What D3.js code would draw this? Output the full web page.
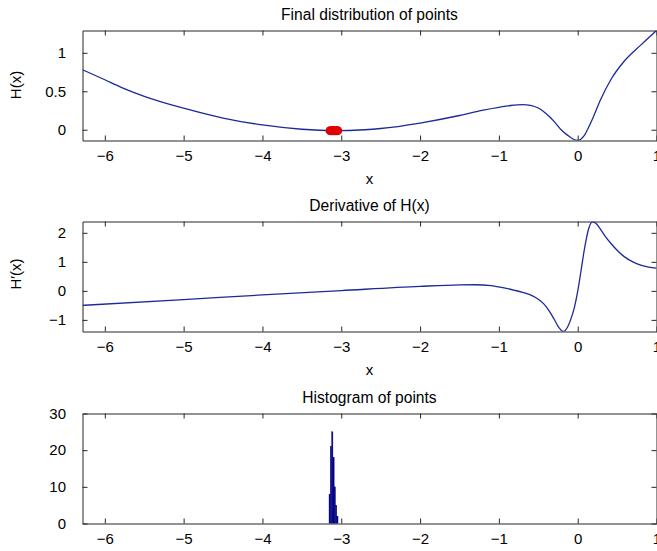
<!DOCTYPE html>
<html>
<head>
<meta charset="utf-8">
<script src="https://cdn.jsdelivr.net/npm/d3@7"></script>
<style>
body { margin: 0; background: #fff; }
svg { display: block; font-family: "Liberation Sans", Arial, sans-serif; }
.axis { color: #262626; }
.axis text { fill: #000; font-size: 15px; font-family: "Liberation Sans", Arial, sans-serif; }
.title { font-size: 15.6px; }
.label { font-size: 15px; }
</style>
</head>
<body>
<svg width="657" height="551"></svg>
<script>
var svg = d3.select("svg");

// shared x axis
var xRange = [-2 * Math.PI, 1];
var xTicks = [-6, -5, -4, -3, -2, -1, 0, 1];

// H(x)
var hX = [-6.283, -6.0, -5.8, -5.5, -5.0, -4.5, -4.0, -3.5, -3.1, -2.7, -2.5, -2.0, -1.5, -1.2, -1.0, -0.85, -0.7, -0.6, -0.5, -0.43, -0.36, -0.3, -0.21, -0.13, -0.06, 0.0, 0.08, 0.14, 0.2, 0.29, 0.42, 0.59, 0.8, 1.0];
var hY = [0.78, 0.65, 0.555, 0.435, 0.28, 0.152, 0.062, 0.006, -0.012, 0.0, 0.016, 0.087, 0.185, 0.255, 0.292, 0.315, 0.326, 0.316, 0.282, 0.235, 0.172, 0.108, 0.0, -0.07, -0.12, -0.138, -0.08, 0.035, 0.17, 0.39, 0.65, 0.89, 1.10, 1.29];
var hTicks = [0, 0.5, 1];

// final points (red markers)
var ptX = [-3.142, -3.128, -3.114, -3.100, -3.086, -3.072, -3.058, -3.045];
var ptY = [-0.012, -0.012, -0.012, -0.012, -0.012, -0.012, -0.012, -0.012];

// H'(x), middle panel
var dX = [-6.283, -5.0, -4.0, -3.0, -2.0, -1.5, -1.3, -1.1, -0.95, -0.8, -0.7, -0.6, -0.5, -0.43, -0.36, -0.3, -0.24, -0.183, -0.133, -0.09, -0.04, 0.0, 0.04, 0.08, 0.14, 0.185, 0.23, 0.29, 0.35, 0.42, 0.5, 0.59, 0.7, 0.8, 0.9, 1.0];
var dY = [-0.50, -0.30, -0.14, 0.01, 0.155, 0.205, 0.21, 0.18, 0.11, 0.02, -0.05, -0.14, -0.29, -0.45, -0.70, -0.97, -1.26, -1.40, -1.27, -1.0, -0.55, -0.02, 0.65, 1.35, 2.15, 2.38, 2.33, 2.12, 1.88, 1.64, 1.40, 1.18, 1.0, 0.89, 0.82, 0.78];
var dTicks = [-1, 0, 1, 2];

// histogram of points
var binX = [-3.147, -3.131, -3.114, -3.098, -3.082, -3.065, -3.049];
var binN = [8, 21, 25, 18, 10, 5, 2];
var nTicks = [0, 10, 20, 30];

var fmt = d3.format("");
var left = 82.5, right = 656.5, plotH = 110;

function frame(top, yDomain, yTicks, title, id) {
    var x = d3.scaleLinear().domain(xRange).range([left, right]);
    var y = d3.scaleLinear().domain(yDomain).range([top + plotH, top]);
    var g = svg.append("g");

    g.append("clipPath").attr("id", id)
        .append("rect")
        .attr("x", left).attr("y", top)
        .attr("width", right - left).attr("height", plotH);

    g.append("g").attr("class", "axis")
        .attr("transform", "translate(0," + (top + plotH) + ")")
        .call(d3.axisBottom(x).tickValues(xTicks).tickSize(-5).tickSizeOuter(0).tickPadding(9.5).tickFormat(fmt));
    g.append("g").attr("class", "axis")
        .attr("transform", "translate(0," + top + ")")
        .call(d3.axisTop(x).tickValues(xTicks).tickSize(-5).tickSizeOuter(0).tickFormat(""));
    g.append("g").attr("class", "axis")
        .attr("transform", "translate(" + left + ",0)")
        .call(d3.axisLeft(y).tickValues(yTicks).tickSize(-5).tickSizeOuter(0).tickPadding(16.5).tickFormat(fmt));
    g.append("g").attr("class", "axis")
        .attr("transform", "translate(" + right + ",0)")
        .call(d3.axisRight(y).tickValues(yTicks).tickSize(-5).tickSizeOuter(0).tickFormat(""));

    g.append("text")
        .attr("class", "title")
        .attr("x", (left + right) / 2)
        .attr("y", top - 10.5)
        .attr("text-anchor", "middle")
        .text(title);

    var plot = g.append("g").attr("clip-path", "url(#" + id + ")");
    return { g: g, plot: plot, x: x, y: y };
}

function ylabel(p, text, cy) {
    p.g.append("text")
        .attr("class", "label")
        .attr("transform", "translate(21," + cy + ") rotate(-90)")
        .attr("text-anchor", "middle")
        .text(text);
}

function xlabel(p, top) {
    p.g.append("text")
        .attr("class", "label")
        .attr("x", (left + right) / 2)
        .attr("y", top + plotH + 43.5)
        .attr("text-anchor", "middle")
        .text("x");
}

function curve(p, xs, ys) {
    var line = d3.line()
        .x(function(d) { return p.x(d[0]); })
        .y(function(d) { return p.y(d[1]); })
        .curve(d3.curveMonotoneX);
    p.plot.append("path")
        .datum(d3.zip(xs, ys))
        .attr("d", line)
        .attr("fill", "none")
        .attr("stroke", "#1c2a98")
        .attr("stroke-width", 1.3);
}

// top panel
var p1 = frame(30.5, [-0.14, 1.29], hTicks, "Final distribution of points", "c1");
curve(p1, hX, hY);
p1.plot.selectAll("circle")
    .data(d3.zip(ptX, ptY))
    .enter().append("circle")
    .attr("cx", function(d) { return p1.x(d[0]); })
    .attr("cy", function(d) { return p1.y(d[1]); })
    .attr("r", 4.5)
    .attr("fill", "#e10000");
ylabel(p1, "H(x)", 85);
xlabel(p1, 30.5);

// middle panel
var p2 = frame(221.5, [-1.40, 2.39], dTicks, "Derivative of H(x)", "c2");
curve(p2, dX, dY);
ylabel(p2, "H\u2032(x)", 274);
xlabel(p2, 221.5);

// histogram
var p3 = frame(413.5, [0, 30], nTicks, "Histogram of points", "c3");
var binW = binX[1] - binX[0];
p3.plot.selectAll("rect")
    .data(d3.zip(binX, binN))
    .enter().append("rect")
    .attr("x", function(d) { return p3.x(d[0] - binW / 2); })
    .attr("width", function(d) { return p3.x(d[0] + binW / 2) - p3.x(d[0] - binW / 2); })
    .attr("y", function(d) { return p3.y(d[1]); })
    .attr("height", function(d) { return p3.y(0) - p3.y(d[1]); })
    .attr("fill", "#000080")
    .attr("stroke", "#000080")
    .attr("stroke-width", 0.4);
</script>
</body>
</html>
